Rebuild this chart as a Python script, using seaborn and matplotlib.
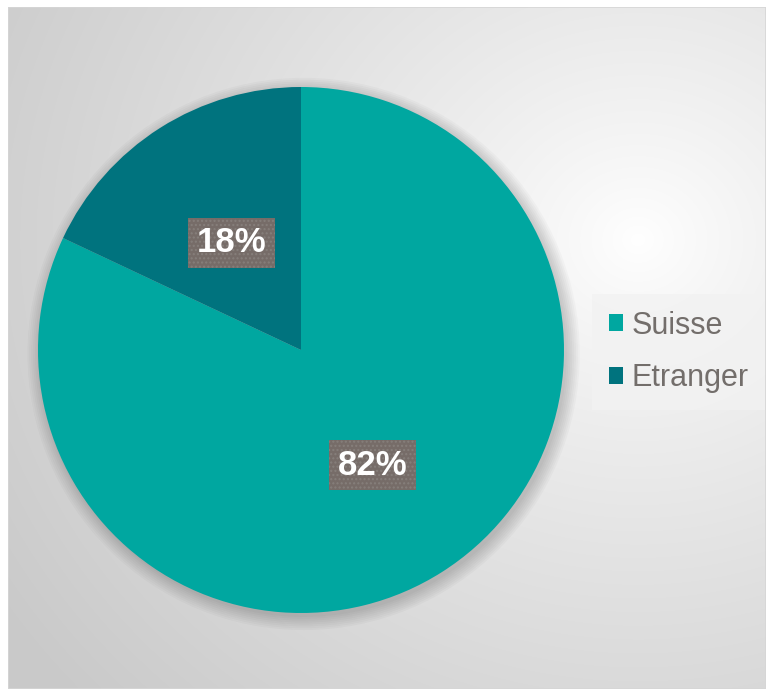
import numpy as np
import matplotlib
matplotlib.use("Agg")
import matplotlib.pyplot as plt
import matplotlib.transforms as mtransforms
import seaborn as sns
from matplotlib.patches import Rectangle, Circle

categories = ["Suisse", "Etranger"]
values = [82, 18]
colors = ["#00A7A0", "#00737E"]

sns.set_style("white")
plt.rcParams['font.family'] = ['Liberation Sans', 'DejaVu Sans']
plt.rcParams['hatch.linewidth'] = 1.0

W, H = 769, 691
fig = plt.figure(figsize=(W / 100, H / 100), dpi=100)
fig.patch.set_facecolor("white")

# background gradient panel
bg = fig.add_axes([8 / W, 1 - 689 / H, 758 / W, 682 / H])
bg.set_axis_off()
ny, nx = 341, 379
yy, xx = np.mgrid[0:ny, 0:nx]
cx, cy = 0.83 * nx, 0.34 * ny
d = np.sqrt(((xx - cx) / nx) ** 2 + ((yy - cy) / ny) ** 2)
t = np.clip(d / 1.0, 0, 1) ** 0.85
grey = 1.0 - t * (1.0 - 0.79)
img = np.dstack([grey, grey, grey])
bg.imshow(img, aspect="auto", extent=[0, 1, 0, 1], origin="upper", interpolation="bilinear")
bg.set_xlim(0, 1)
bg.set_ylim(0, 1)
bg.add_patch(Rectangle((0, 0), 1, 1, transform=bg.transAxes, fill=False,
                       edgecolor="#d6d6d6", linewidth=1.2))

# pie axes
cxp, cyp, r = 301, 350, 263
ax = fig.add_axes([(cxp - r) / W, (H - cyp - r) / H, 2 * r / W, 2 * r / H])
ax.set_axis_off()

# soft shadow
for rr in np.linspace(1.05, 1.0, 8):
    ax.add_patch(Circle((0.01, -0.015), rr, facecolor="black", alpha=0.022,
                        linewidth=0, zorder=0, clip_on=False))

wedges, texts, autotexts = ax.pie(
    values, colors=colors, startangle=90, counterclock=False, radius=1.0,
    autopct=lambda p: f"{p:.0f}%", pctdistance=0.5,
    wedgeprops=dict(linewidth=0),
    textprops=dict(color="white", fontsize=25, fontweight="bold"),
)
ax.set_xlim(-1, 1)
ax.set_ylim(-1, 1)
ax.set_aspect("equal")
shift = mtransforms.ScaledTranslation(0.01, -0.04, fig.dpi_scale_trans)
for at in autotexts:
    at.set_transform(ax.transData + shift)
    at.set_bbox(dict(boxstyle="square,pad=0.24", facecolor="#766C68",
                     edgecolor="#867f7b", linewidth=0, hatch="...."))
    at.set_zorder(5)

leg = fig.legend(wedges, categories, loc="center left",
                 bbox_to_anchor=(592 / W, 1 - 352 / H),
                 frameon=True, fontsize=22, labelcolor="#736E6B",
                 handlelength=0.48, handleheight=0.48, handletextpad=0.26,
                 labelspacing=0.75, borderpad=0.55, borderaxespad=0,
                 fancybox=False)
leg.get_frame().set_facecolor("#f2f2f2")
leg.get_frame().set_edgecolor("none")
leg.get_frame().set_alpha(0.8)

fig.savefig("out.png", dpi=100)
